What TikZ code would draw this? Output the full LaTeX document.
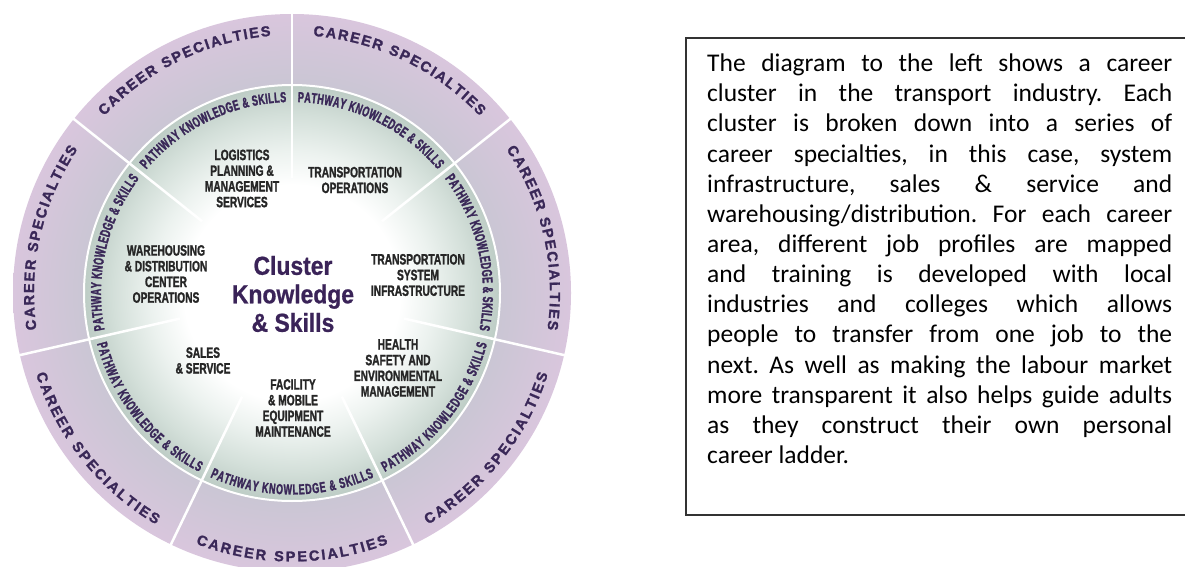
\documentclass[tikz,border=0pt]{standalone}
\usepackage{fontspec}
\usetikzlibrary{decorations.text}
\newfontfamily\condfont[FakeStretch=0.68, FakeBold=1.4]{Liberation Sans}
\newfontfamily\pathfont[FakeStretch=0.62, FakeBold=1.8]{Liberation Sans}
\newfontfamily\clusterfont[FakeStretch=0.88, FakeBold=0.8]{Liberation Sans}
\newfontfamily\careerfont[FakeBold=1.5]{Liberation Sans}
\newfontfamily\bodyfont{Carlito}
\definecolor{ringin}{HTML}{CAC6D4}
\definecolor{ringout}{HTML}{D9C6DD}
\definecolor{diskedge}{HTML}{BDCCC5}
\definecolor{diskmid}{HTML}{D3DFD9}
\definecolor{diskpale}{HTML}{ECF2EF}
\definecolor{txtpurple}{HTML}{3A2858}
\definecolor{clusterpurple}{HTML}{3A2358}
\definecolor{labgrey}{HTML}{262626}
\pgfdeclareradialshading{ringshade}{\pgfpoint{0bp}{0bp}}{color(0bp)=(ringin); color(18.6bp)=(ringin); color(25bp)=(ringout); color(50bp)=(ringout)}
\pgfdeclareradialshading{diskshade}{\pgfpoint{0bp}{0bp}}{color(0bp)=(white); color(13bp)=(white); color(17bp)=(diskpale); color(21.5bp)=(diskmid); color(25bp)=(diskedge); color(50bp)=(diskedge)}
\tikzset{
  career/.style={decorate, decoration={text along path, text align=fit to path, text color=txtpurple,
     text={|\careerfont\bfseries\fontsize{14.5}{14.5}\selectfont|CAREER SPECIALTIES}}},
  pathway/.style={decorate, decoration={text along path, text align=fit to path, text color=txtpurple,
     text={|\pathfont\bfseries\fontsize{14.5}{14.5}\selectfont|PATHWAY KNOWLEDGE {\&} SKILLS}}},
  lab/.style={font=\condfont\bfseries\fontsize{15}{15.7}\selectfont, text=labgrey, align=center, inner sep=0pt},
  divider/.style={white, line width=2.5pt},
  body/.style={font=\bodyfont\fontsize{25.5}{30}\selectfont, anchor=base west, inner sep=0pt, text=black}
}
\frenchspacing
\begin{document}
\begin{tikzpicture}[x=1pt,y=1pt]
\useasboundingbox (0,0) rectangle (1185,566);
\fill[white] (0,0) rectangle (1185,566);
\begin{scope}
\clip (0,0) rectangle (1185,566);
\begin{scope}[shift={(292,273)}]
  \shade[shading=ringshade] (0,0) circle[radius=279];
  \shade[shading=diskshade] (0,0) circle[radius=208];
  \draw[white, line width=2pt] (0,0) circle[radius=208];
  \foreach \a in {90,38.571,-12.857,-64.286,-115.714,-167.143,141.429}
    \draw[divider] (\a:115) -- (\a:281);
  % outer ring labels
  \foreach \m in {64.286,12.857,167.143,115.714}
    \path[career] ({\m+21}:258) arc[start angle=\m+21, end angle=\m-21, radius=258];
  \foreach \m in {-38.571,-90,-141.429}
    \path[career] ({\m-21}:268.5) arc[start angle=\m-21, end angle=\m+21, radius=268.5];
  % pathway labels
  \foreach \m in {64.286,12.857,167.143,115.714}
    \path[pathway] ({\m+24}:191) arc[start angle=\m+24, end angle=\m-24, radius=191];
  \foreach \m in {-38.571,-90,-141.429}
    \path[pathway] ({\m-24}:201.5) arc[start angle=\m-24, end angle=\m+24, radius=201.5];
  % inner labels
  \node[lab] (logi) at (-50,114.5) {LOGISTICS\\PLANNING \&\\MANAGEMENT\\SERVICES};
  \node[lab] (tops) at (63,113) {TRANSPORTATION\\OPERATIONS};
  \node[lab] (tsi) at (126,18) {TRANSPORTATION\\SYSTEM\\INFRASTRUCTURE};
  \node[lab] (hse) at (106,-75) {HEALTH\\SAFETY AND\\ENVIRONMENTAL\\MANAGEMENT};
  \node[lab] (fac) at (1,-115) {FACILITY\\\& MOBILE\\EQUIPMENT\\MAINTENANCE};
  \node[lab] (sales) at (-89,-67.5) {SALES\\\& SERVICE};
  \node[lab] (ware) at (-126,19) {WAREHOUSING\\\& DISTRIBUTION\\CENTER\\OPERATIONS};
  \node[font=\clusterfont\bfseries\fontsize{26}{28.5}\selectfont, text=clusterpurple, align=center, inner sep=0pt] (cluster) at (1,-1) {Cluster\\Knowledge\\\& Skills};
\end{scope}
\end{scope}
% text box
\draw[black!80, line width=1.3pt] (1190,528) -- (686,528) -- (686,51) -- (1190,51);
\foreach \t [count=\i] in {
  {The diagram to the left shows a career},
  {cluster in the transport industry. Each},
  {cluster is broken down into a series of},
  {career specialties, in this case, system},
  {infrastructure, sales \& service and},
  {warehousing/distribution. For each career},
  {area, different job profiles are mapped},
  {and training is developed with local},
  {industries and colleges which allows},
  {people to transfer from one job to the},
  {next. As well as making the labour market},
  {more transparent it also helps guide adults},
  {as they construct their own personal}}
  \node[body] (line\i) at (707,{494.3-30.13*(\i-1)}) {\makebox[465pt][s]{\t}};
\node[body] (line14) at (707,{494.3-30.13*13}) {career ladder.};
\end{tikzpicture}
\end{document}
